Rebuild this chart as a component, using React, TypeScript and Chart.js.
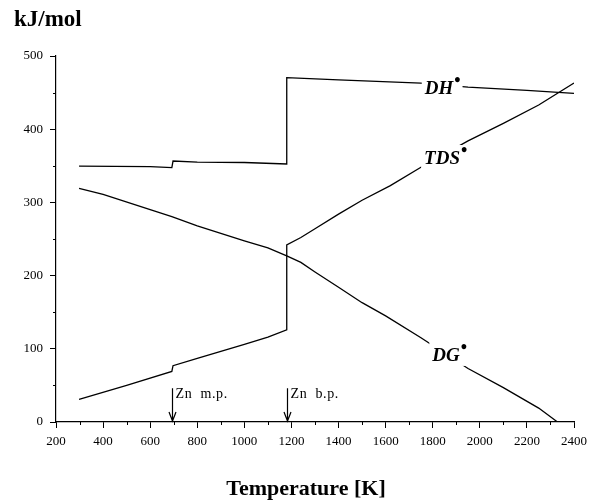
import { useEffect, useRef } from 'react';
import { Chart, registerables } from 'chart.js';

Chart.register(...registerables);

// Temperature [K] and values [kJ/mol]
const dhT = [298, 600, 692, 697, 800, 1000, 1180, 1180, 1400, 1750, 1950, 2200, 2400];
const dhV = [349.5, 349, 347.5, 356.5, 355, 354.5, 352.5, 470.5, 467.5, 463, 457.5, 453, 449];

const tdsT = [298, 500, 692, 697, 800, 1000, 1100, 1180, 1180, 1240, 1300, 1400, 1500, 1620, 1750, 1950, 2100, 2250, 2400];
const tdsV = [31, 50, 69, 77, 87, 106, 116, 126, 242, 252, 264, 284, 303, 323, 348, 384, 408, 433, 463];

const dgT = [298, 400, 600, 692, 800, 1000, 1100, 1180, 1240, 1300, 1400, 1500, 1600, 1750, 1950, 2100, 2250, 2330];
const dgV = [319, 311, 290, 280.5, 268, 247.5, 238, 227, 218, 205, 184, 163, 145, 115, 73, 47, 19, 0];

const curveNames = ['DH', 'TDS', 'DG'];
const labelT = [1840, 1853, 1870];
const labelV = [458, 362, 93];

const markerT = [692, 1180];
const markerText = ['Zn  m.p.', 'Zn  b.p.'];
const markerTop = 46;

const xMin = 200, xMax = 2400, xStep = 100;
const yMin = 0, yMax = 500, yStep = 50;

const yTitle = 'kJ/mol';
const xTitle = 'Temperature [K]';

const SERIF = '"Liberation Serif", "Times New Roman", serif';

function pts(t: number[], v: number[]) {
  return t.map((x, i) => ({ x, y: v[i] }));
}

const decorPlugin = {
  id: 'decor',
  afterDatasetsDraw(chart: any) {
    const ctx = chart.ctx as CanvasRenderingContext2D;
    const xs = chart.scales.x;
    const ys = chart.scales.y;
    const area = chart.chartArea;
    ctx.save();
    // minor ticks
    ctx.strokeStyle = '#000';
    ctx.lineWidth = 1;
    ctx.beginPath();
    for (let v = xMin; v <= xMax; v += xStep) {
      if (v % 200 !== 0) {
        const px = Math.round(xs.getPixelForValue(v)) + 0.5;
        ctx.moveTo(px, area.bottom);
        ctx.lineTo(px, area.bottom + 3);
      }
    }
    for (let v = yMin; v <= yMax; v += yStep) {
      if (v % 100 !== 0) {
        const py = Math.round(ys.getPixelForValue(v)) + 0.5;
        ctx.moveTo(area.left, py);
        ctx.lineTo(area.left - 3, py);
      }
    }
    ctx.stroke();

    // curve labels
    curveNames.forEach((name, i) => {
      const cx = xs.getPixelForValue(labelT[i]);
      const cy = ys.getPixelForValue(labelV[i]);
      ctx.font = `italic bold 19px ${SERIF}`;
      const w = ctx.measureText(name).width;
      ctx.font = `bold 18px ${SERIF}`;
      const wb = ctx.measureText('•').width;
      const total = w + wb;
      ctx.fillStyle = '#fff';
      ctx.fillRect(cx - total / 2 - 3, cy - 12, total + 6, 24);
      ctx.fillStyle = '#000';
      ctx.textBaseline = 'alphabetic';
      ctx.textAlign = 'left';
      ctx.font = `italic bold 19px ${SERIF}`;
      ctx.fillText(name, cx - total / 2, cy + 7);
      ctx.font = `bold 18px ${SERIF}`;
      ctx.fillText('•', cx - total / 2 + w + 1, cy - 1);
    });

    // melting / boiling point arrows
    markerT.forEach((t, i) => {
      const px = Math.round(xs.getPixelForValue(t)) + 0.5;
      const top = ys.getPixelForValue(markerTop);
      const tip = ys.getPixelForValue(0);
      ctx.strokeStyle = '#000';
      ctx.lineWidth = 1.2;
      ctx.beginPath();
      ctx.moveTo(px, top);
      ctx.lineTo(px, tip);
      ctx.moveTo(px - 3.5, tip - 10);
      ctx.lineTo(px, tip - 1);
      ctx.lineTo(px + 3.5, tip - 10);
      ctx.stroke();
      ctx.fillStyle = '#000';
      ctx.font = `14px ${SERIF}`;
      (ctx as any).letterSpacing = '0.6px';
      ctx.textAlign = 'left';
      ctx.textBaseline = 'alphabetic';
      ctx.fillText(markerText[i], px + 3, top + 10);
      (ctx as any).letterSpacing = '0px';
    });

    // titles
    ctx.font = `bold 23px ${SERIF}`;
    ctx.textAlign = 'left';
    ctx.fillText(yTitle, 14, 26);
    ctx.font = `bold 22px ${SERIF}`;
    ctx.textAlign = 'center';
    ctx.fillText(xTitle, 306, 495);
    ctx.restore();
  },
};

export default function App() {
  const ref = useRef<HTMLCanvasElement | null>(null);
  useEffect(() => {
    document.body.style.margin = '0';
    document.body.style.overflow = 'hidden';
    const canvas = ref.current;
    if (!canvas) return;
    const line = (t: number[], v: number[]) => ({
      data: pts(t, v),
      borderColor: '#000',
      borderWidth: 1.3,
      pointRadius: 0,
      tension: 0,
      fill: false,
    });
    const chart = new Chart(canvas, {
      type: 'line',
      data: {
        datasets: [line(dhT, dhV), line(tdsT, tdsV), line(dgT, dgV)],
      },
      options: {
        animation: false,
        responsive: false,
        events: [],
        layout: { padding: { top: 56, right: 24, left: 0, bottom: 0 } },
        plugins: { legend: { display: false }, tooltip: { enabled: false }, title: { display: false } },
        scales: {
          x: {
            type: 'linear',
            min: xMin,
            max: xMax,
            afterFit: (s: any) => { s.height = 81; },
            border: { color: '#000', width: 1.2 },
            grid: {
              drawOnChartArea: false,
              tickLength: 6,
              tickColor: (c: any) => (c.tick && c.tick.value % 200 === 0 ? '#000' : 'rgba(0,0,0,0)'),
            },
            ticks: {
              stepSize: xStep,
              autoSkip: false,
              maxRotation: 0,
              color: '#000',
              padding: 6,
              font: { family: SERIF, size: 13 },
              callback: (v: any) => (Number(v) % 200 === 0 ? String(v) : ''),
            },
          },
          y: {
            type: 'linear',
            min: yMin,
            max: yMax,
            afterFit: (s: any) => { s.width = 56; },
            border: { color: '#000', width: 1.2 },
            grid: {
              drawOnChartArea: false,
              tickLength: 6,
              tickColor: (c: any) => (c.tick && c.tick.value % 100 === 0 ? '#000' : 'rgba(0,0,0,0)'),
            },
            ticks: {
              stepSize: yStep,
              autoSkip: false,
              color: '#000',
              padding: 7,
              font: { family: SERIF, size: 13 },
              callback: (v: any) => (Number(v) % 100 === 0 ? String(v) : ''),
            },
          },
        },
      },
      plugins: [decorPlugin],
    });
    return () => chart.destroy();
  }, []);
  return <canvas ref={ref} width={598} height={503} style={{ display: 'block' }} />;
}
